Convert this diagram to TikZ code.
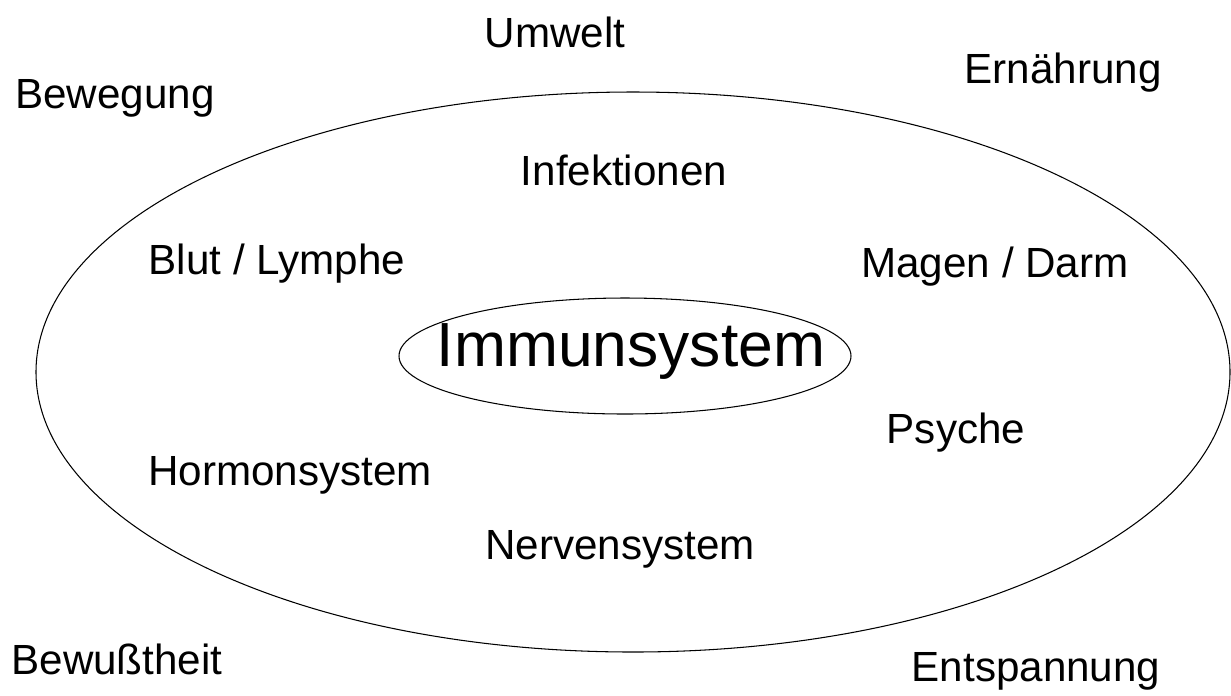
\documentclass[tikz,border=0pt]{standalone}
\usepackage{fontspec}
\setmainfont{Liberation Sans}
\usetikzlibrary{shapes.geometric, positioning}

\begin{document}
\begin{tikzpicture}[
    factor/.style={font=\fontsize{24}{28}\selectfont, inner sep=0pt},
    ring/.style={ellipse, draw, line width=0.6pt, inner sep=0pt}
]
    \useasboundingbox (0,0) rectangle (24.62,-13.9);

    % Outer ring
    \node[ring, minimum width=23.88cm, minimum height=11.2cm] (body) at (12.66,-7.44) {};

    % Centre
    \node[ring, minimum width=9.04cm, minimum height=2.32cm] (core) at (12.5,-7.12) {};
    \node[factor, font=\fontsize{35.5}{40}\selectfont] (immun) at (12.62,-7.04) {Immunsystem};

    % Inside the ring
    \node[factor] (infekt) at (12.48,-3.4) {Infektionen};
    \node[factor] (blut) at (5.54,-5.28) {Blut / Lymphe};
    \node[factor] (magen) at (19.9,-5.34) {Magen / Darm};
    \node[factor] (psyche) at (19.12,-8.66) {Psyche};
    \node[factor] (hormon) at (5.8,-9.5) {Hormonsystem};
    \node[factor] (nerven) at (12.4,-10.98) {Nervensystem};

    % Outside the ring
    \node[factor] (umwelt) at (11.1,-0.64) {Umwelt};
    \node[factor] (ernaehrung) at (21.26,-1.46) {Ernährung};
    \node[factor] (bewegung) at (2.3,-1.96) {Bewegung};
    \node[factor] (bewusst) at (2.34,-13.18) {Bewußtheit};
    \node[factor] (entspannung) at (20.72,-13.42) {Entspannung};
\end{tikzpicture}
\end{document}
